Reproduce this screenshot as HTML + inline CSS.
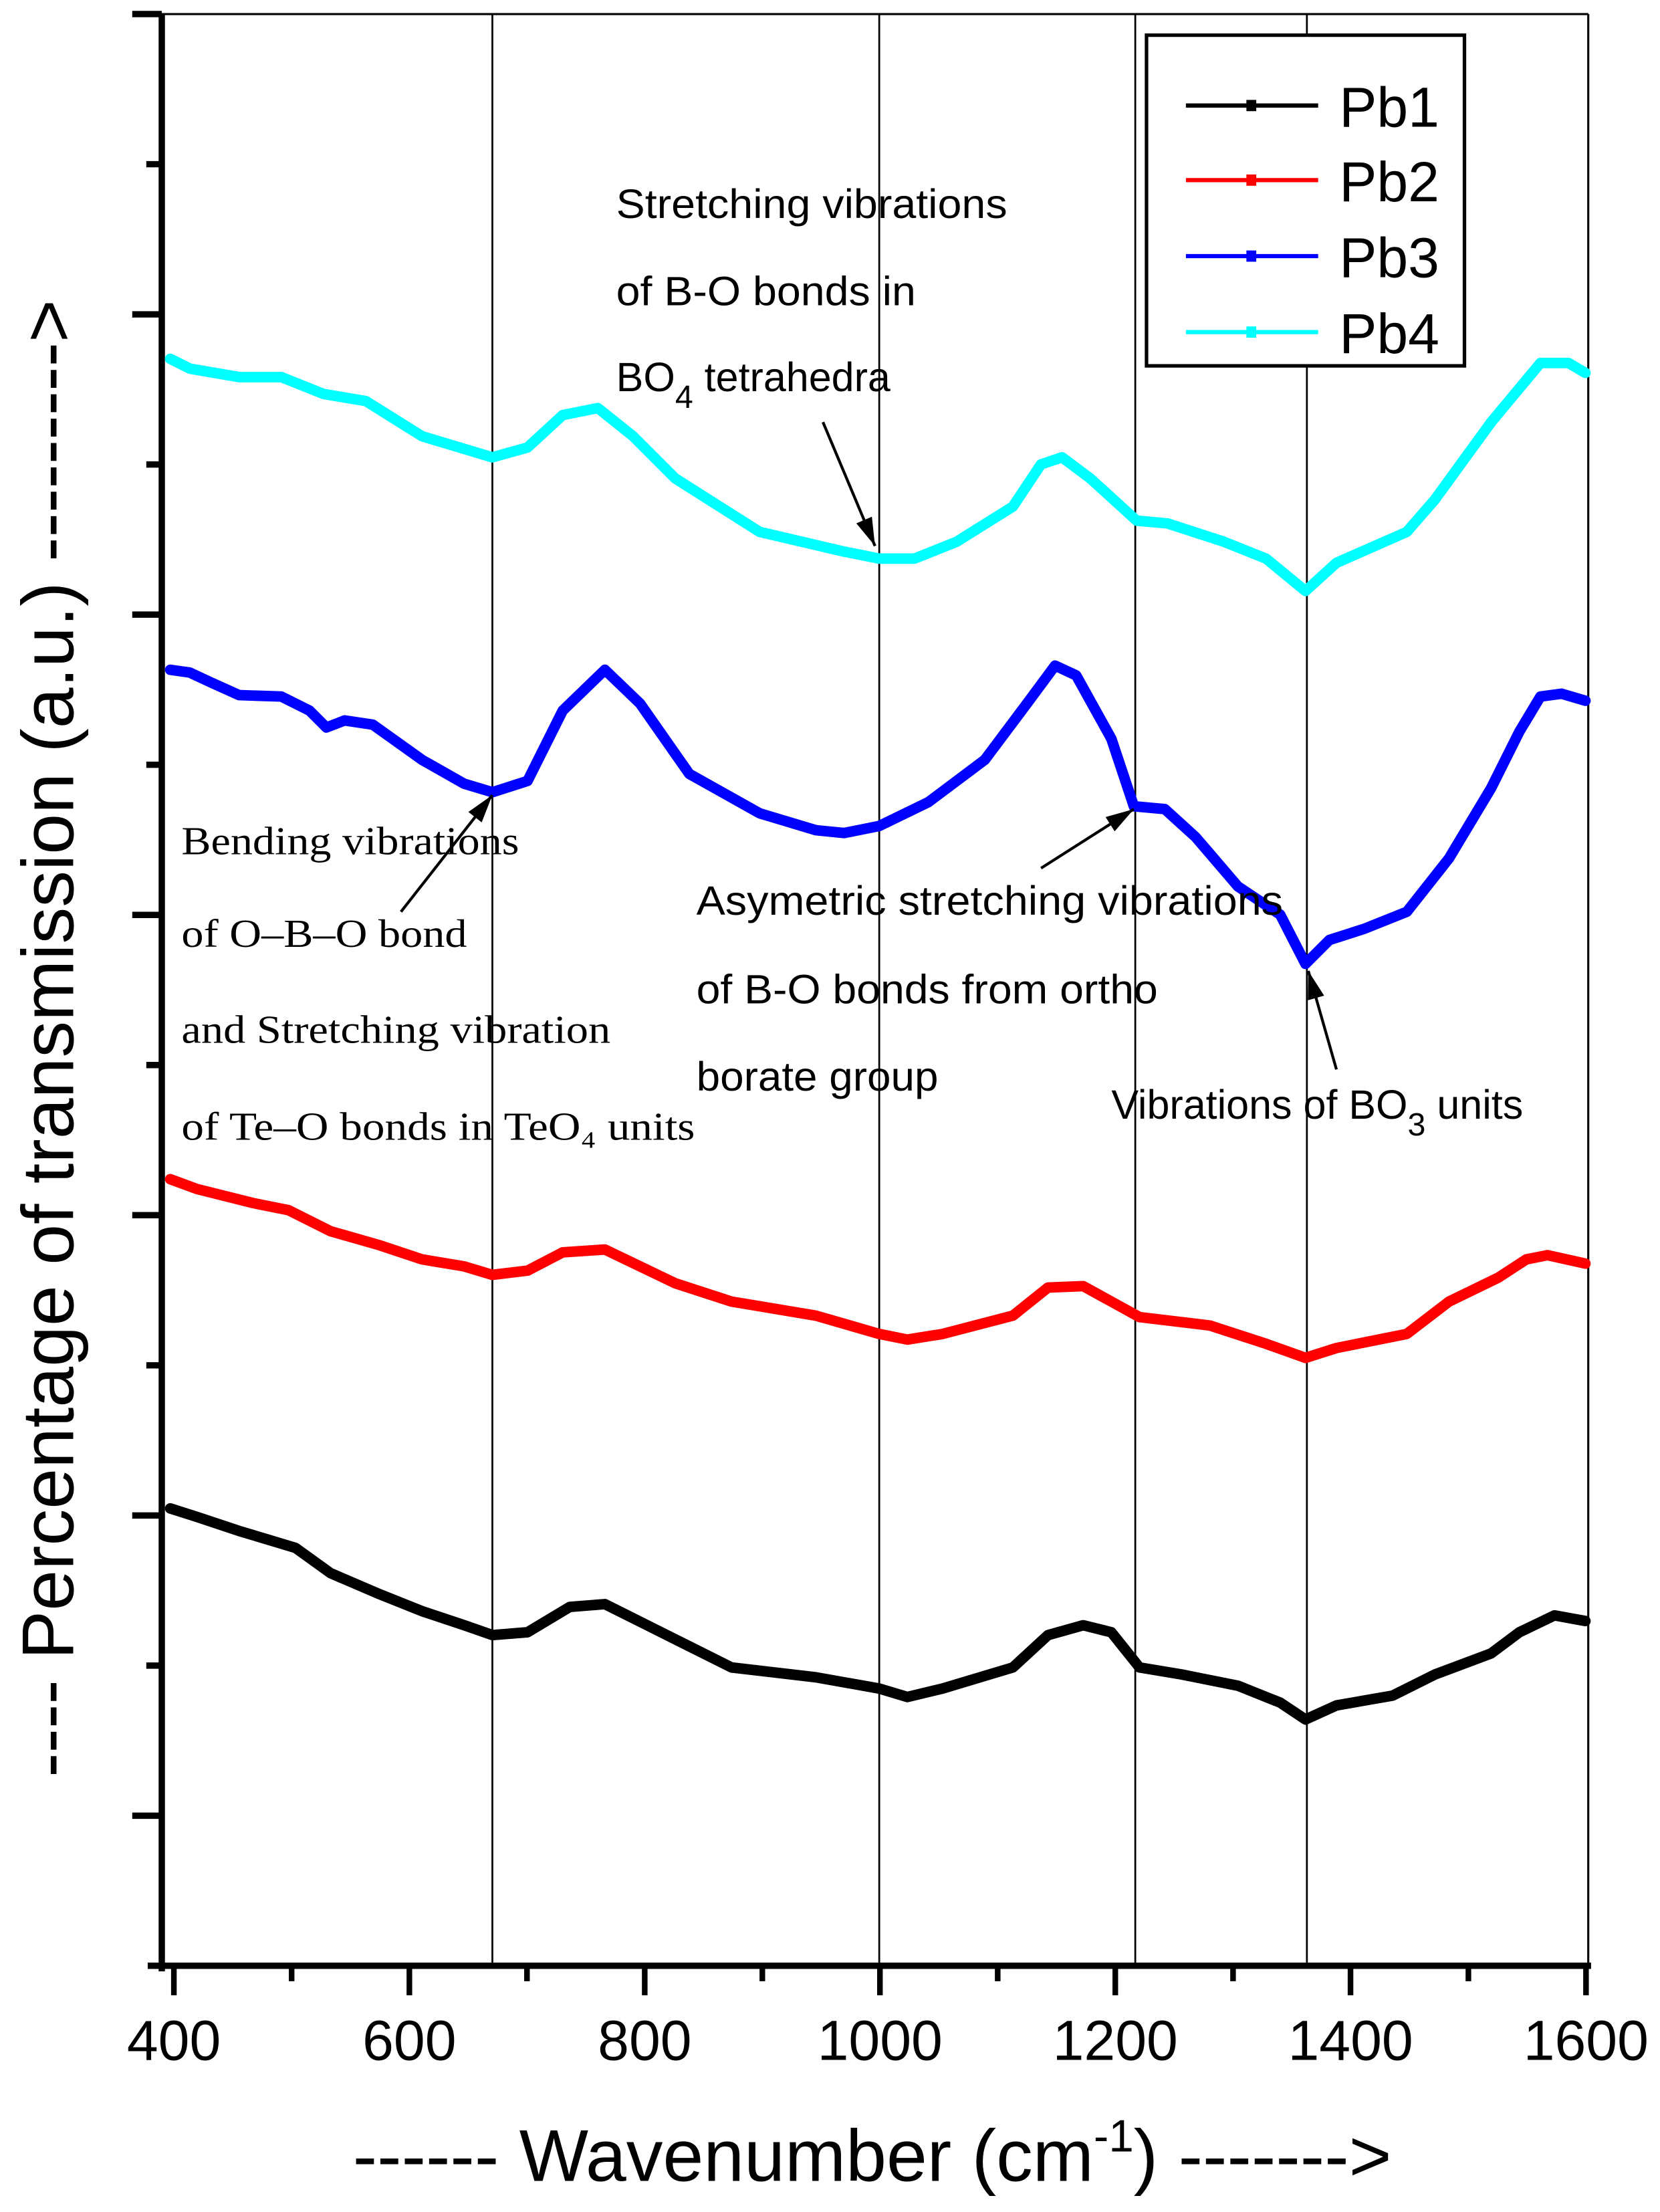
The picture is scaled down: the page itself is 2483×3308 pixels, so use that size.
<!DOCTYPE html>
<html><head><meta charset="utf-8"><style>html,body{margin:0;padding:0;background:#fff}svg{display:block}</style></head>
<body>
<svg width="2483" height="3308" viewBox="0 0 1180 1572" preserveAspectRatio="none" xmlns="http://www.w3.org/2000/svg" font-family="Liberation Sans, Arial, sans-serif">
<defs>
<marker id="ah2" viewBox="0 0 20 12" markerWidth="22" markerHeight="12" refX="20" refY="6" orient="auto" markerUnits="userSpaceOnUse"><path d="M0,0 L20,6 L0,12 Z" fill="#000"/></marker>
</defs>
<rect width="1180" height="1572" fill="#fff"/>
<line x1="115" y1="10" x2="1129" y2="10" stroke="#000" stroke-width="1.5"/>
<line x1="1129" y1="10" x2="1129" y2="1397" stroke="#000" stroke-width="1.5"/>
<g stroke="#000" stroke-width="1.3">
<line x1="350" y1="10" x2="350" y2="1397"/>
<line x1="625" y1="10" x2="625" y2="1397"/>
<line x1="807" y1="10" x2="807" y2="1397"/>
<line x1="929" y1="10" x2="929" y2="1397"/>
</g>
<line x1="115" y1="10" x2="115" y2="1401" stroke="#000" stroke-width="4.5"/>
<g stroke="#000" stroke-width="4.5">
<line x1="94" y1="10" x2="115" y2="10"/><line x1="94" y1="223.4" x2="115" y2="223.4"/><line x1="94" y1="436.8" x2="115" y2="436.8"/><line x1="94" y1="650.2" x2="115" y2="650.2"/><line x1="94" y1="863.6" x2="115" y2="863.6"/><line x1="94" y1="1077" x2="115" y2="1077"/><line x1="94" y1="1290.4" x2="115" y2="1290.4"/>
<line x1="104" y1="116.7" x2="115" y2="116.7"/><line x1="104" y1="330.1" x2="115" y2="330.1"/><line x1="104" y1="543.5" x2="115" y2="543.5"/><line x1="104" y1="756.9" x2="115" y2="756.9"/><line x1="104" y1="970.3" x2="115" y2="970.3"/><line x1="104" y1="1183.7" x2="115" y2="1183.7"/>
</g>
<line x1="105" y1="1397" x2="1131" y2="1397" stroke="#000" stroke-width="4.5"/>
<g stroke="#000" stroke-width="4">
<line x1="123.6" y1="1397" x2="123.6" y2="1418"/><line x1="291" y1="1397" x2="291" y2="1418"/><line x1="458.3" y1="1397" x2="458.3" y2="1418"/><line x1="625.5" y1="1397" x2="625.5" y2="1418"/><line x1="792.8" y1="1397" x2="792.8" y2="1418"/><line x1="960" y1="1397" x2="960" y2="1418"/><line x1="1127.4" y1="1397" x2="1127.4" y2="1418"/>
<line x1="207.3" y1="1397" x2="207.3" y2="1408"/><line x1="374.6" y1="1397" x2="374.6" y2="1408"/><line x1="541.9" y1="1397" x2="541.9" y2="1408"/><line x1="709.2" y1="1397" x2="709.2" y2="1408"/><line x1="876.5" y1="1397" x2="876.5" y2="1408"/><line x1="1043.8" y1="1397" x2="1043.8" y2="1408"/>
</g>
<g font-size="40" text-anchor="middle">
<text x="123.6" y="1464">400</text><text x="291" y="1464">600</text><text x="458.3" y="1464">800</text><text x="625.5" y="1464">1000</text><text x="792.8" y="1464">1200</text><text x="960" y="1464">1400</text><text x="1127.4" y="1464">1600</text>
</g>
<text x="620" y="1550" font-size="52" text-anchor="middle">------ Wavenumber (cm<tspan font-size="32" dy="-21">-1</tspan><tspan dy="21">) -------&gt;</tspan></text>
<text transform="translate(52,738) rotate(-90)" font-size="52" text-anchor="middle">---- Percentage of transmission (a.u.) ---------&gt;</text>
<g fill="none" stroke-width="7.5" stroke-linejoin="round" stroke-linecap="round">
<polyline stroke="#00ffff" points="121,255 135,262 170,268 200,268 230,280 260,285 300,310 350,325 375,318 400,295 425,290 450,310 480,340 540,378 600,392 625,397 650,397 680,385 720,360 740,330 755,325 775,340 808,370 830,372 870,385 900,397 928,420 950,400 1000,378 1020,355 1060,300 1085,270 1095,258 1115,258 1127,265"/>
<polyline stroke="#0000ff" points="121,476 135,478 150,485 170,494 200,495 220,505 232,517 245,512 265,515 300,540 330,557 350,563 375,555 400,505 430,476 455,500 490,550 540,578 580,590 600,592 625,587 660,570 700,540 730,500 750,473 765,480 790,525 806,573 828,575 850,595 880,630 910,650 928,685 945,668 970,660 1000,648 1030,610 1060,560 1080,520 1095,495 1110,493 1127,498"/>
<polyline stroke="#ff0000" points="121,838 140,845 180,855 205,860 235,875 270,885 300,895 330,900 350,906 375,903 400,890 430,888 455,900 480,912 520,925 580,935 625,948 645,952 670,948 720,935 745,915 770,914 790,925 810,936 860,942 900,955 928,965 950,958 1000,948 1030,925 1065,908 1085,895 1100,892 1127,898"/>
<polyline stroke="#000000" points="121,1072 140,1078 170,1088 210,1100 235,1118 270,1133 300,1145 330,1155 350,1162 375,1160 405,1142 430,1140 460,1155 490,1170 520,1185 580,1192 625,1200 645,1206 670,1200 720,1185 745,1162 770,1155 790,1160 810,1185 840,1190 880,1198 910,1210 928,1222 950,1212 990,1205 1020,1190 1060,1175 1080,1160 1105,1148 1127,1152"/>
</g>
<rect x="815" y="25" width="226" height="235" fill="#fff" stroke="#000" stroke-width="2.5"/>
<g stroke-width="3">
<line x1="843" y1="75" x2="937" y2="75" stroke="#000"/><rect x="886" y="71" width="7" height="8" fill="#000"/>
<line x1="843" y1="128" x2="937" y2="128" stroke="#f00"/><rect x="886" y="124" width="7" height="8" fill="#f00"/>
<line x1="843" y1="182" x2="937" y2="182" stroke="#00f"/><rect x="886" y="178" width="7" height="8" fill="#00f"/>
<line x1="843" y1="236" x2="937" y2="236" stroke="#0ff"/><rect x="886" y="232" width="7" height="8" fill="#0ff"/>
</g>
<g font-size="40">
<text x="952" y="90">Pb1</text><text x="952" y="143">Pb2</text><text x="952" y="197">Pb3</text><text x="952" y="251">Pb4</text>
</g>
<g font-size="29">
<text x="438" y="155" textLength="278" lengthAdjust="spacingAndGlyphs">Stretching vibrations</text>
<text x="438" y="217" textLength="213" lengthAdjust="spacingAndGlyphs">of B-O bonds in</text>
<text x="438" y="278">BO<tspan font-size="23" dy="12">4</tspan><tspan dy="-12"> tetrahedra</tspan></text>
<text x="495" y="650" textLength="417" lengthAdjust="spacingAndGlyphs">Asymetric stretching vibrations</text>
<text x="495" y="713" textLength="328" lengthAdjust="spacingAndGlyphs">of B-O bonds from ortho</text>
<text x="495" y="775" textLength="172" lengthAdjust="spacingAndGlyphs">borate group</text>
<text x="790" y="795">Vibrations of BO<tspan font-size="23" dy="12">3</tspan><tspan dy="-12"> units</tspan></text>
</g>
<g font-size="28" font-family="Liberation Serif, Times New Roman, serif">
<text x="129" y="607" textLength="240" lengthAdjust="spacingAndGlyphs">Bending vibrations</text>
<text x="129" y="673" textLength="203" lengthAdjust="spacingAndGlyphs">of O–B–O bond</text>
<text x="129" y="741" textLength="305" lengthAdjust="spacingAndGlyphs">and Stretching vibration</text>
<text x="129" y="810" textLength="365" lengthAdjust="spacingAndGlyphs">of Te–O bonds in TeO₄ units</text>
</g>
<g stroke="#000" stroke-width="2">
<line x1="585" y1="300" x2="622" y2="388" marker-end="url(#ah2)"/>
<line x1="285" y1="648" x2="350" y2="565" marker-end="url(#ah2)"/>
<line x1="740" y1="617" x2="806" y2="575" marker-end="url(#ah2)"/>
<line x1="950" y1="760" x2="930" y2="690" marker-end="url(#ah2)"/>
</g>
</svg>
</body></html>
